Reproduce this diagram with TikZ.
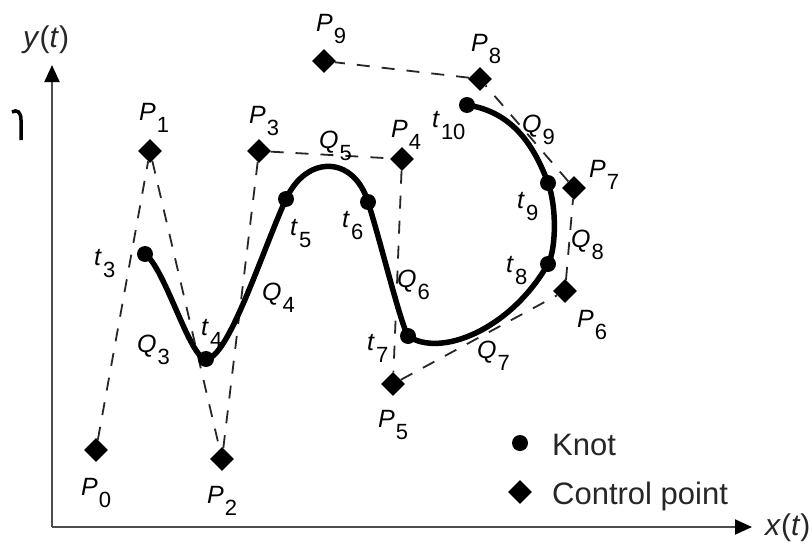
\documentclass[tikz,border=0pt]{standalone}
\usepackage{fontspec}
\setmainfont{Liberation Sans}
\usetikzlibrary{shapes.geometric,arrows.meta}
\newcommand{\lbl}[2]{\textit{#1}\kern1pt\raisebox{-12pt}{\fontsize{22}{22}\selectfont #2}}
\begin{document}
\begin{tikzpicture}[x=1pt,y=-1pt,
  ctrl/.style={diamond,fill=black,inner sep=0pt,minimum size=24pt},
  knot/.style={circle,fill=black,inner sep=0pt,minimum size=16pt},
  hull/.style={dash pattern=on 13pt off 12pt,line width=1.8pt,black!85},
  spline/.style={line width=5.5pt,black},
  axis/.style={line width=2pt,black!70,-{Triangle[length=17pt,width=15pt,fill=black,color=black]}},
  lab/.style={anchor=base west,inner sep=0pt,font=\fontsize{25}{25}\selectfont},
  leg/.style={anchor=base west,inner sep=0pt,font=\fontsize{31}{31}\selectfont,black!85},
  axlab/.style={anchor=base west,inner sep=0pt,font=\fontsize{30}{30}\selectfont,black!85}]
\fill[white] (0,0) rectangle (812,546);
\useasboundingbox (0,0) rectangle (812,546);
% stray fragment at left edge
\draw[line width=3.5pt,black,line cap=butt] (12,112) .. controls (17,109) and (21,112) .. (21,120) -- (21,140);
% axes
\coordinate (O) at (52,527);
\coordinate (Yend) at (52,65);
\coordinate (Xend) at (752,527);
\draw[axis] (O) -- (Yend);
\draw[axis] (O) -- (Xend);
\node[axlab] (ylab) at (23,47) {\textit{y}(\textit{t})};
\node[axlab] (xlab) at (765,535) {\textit{x}(\textit{t})};
% control points
\node[ctrl] (P0) at (96,450) {};
\node[ctrl] (P1) at (150,151) {};
\node[ctrl] (P2) at (222,459) {};
\node[ctrl] (P3) at (259,151) {};
\node[ctrl] (P4) at (402,159) {};
\node[ctrl] (P5) at (393,384) {};
\node[ctrl] (P6) at (565,291) {};
\node[ctrl] (P7) at (574,188) {};
\node[ctrl] (P8) at (480,79) {};
\node[ctrl] (P9) at (324,61) {};
\draw[hull] (P0) -- (P1) -- (P2) -- (P3) -- (P4) -- (P5) -- (P6) -- (P7) -- (P8) -- (P9);
% knots
\node[knot] (t3) at (145,254) {};
\node[knot] (t4) at (206,359) {};
\node[knot] (t5) at (286,199) {};
\node[knot] (t6) at (368,202) {};
\node[knot] (t7) at (408,336) {};
\node[knot] (t8) at (548,264) {};
\node[knot] (t9) at (548,183) {};
\node[knot] (t10) at (467,105) {};
% spline
\draw[spline] (t3.center) .. controls (165,268) and (190,359) .. (t4.center)
  .. controls (228,359) and (262,252) .. (t5.center)
  .. controls (307,154) and (354,156) .. (t6.center)
  .. controls (381,243) and (400,322) .. (t7.center)
  .. controls (440,358) and (510,330) .. (t8.center)
  .. controls (556,250) and (557,207) .. (t9.center)
  .. controls (535,148) and (514,112) .. (t10.center);
% control point labels
\node[lab] (lP0) at (81,495) {\lbl{P}{0}};
\node[lab] (lP1) at (139,120) {\lbl{P}{1}};
\node[lab] (lP2) at (207,503) {\lbl{P}{2}};
\node[lab] (lP3) at (249,123) {\lbl{P}{3}};
\node[lab] (lP4) at (391,137) {\lbl{P}{4}};
\node[lab] (lP5) at (378,427) {\lbl{P}{5}};
\node[lab] (lP6) at (577,327) {\lbl{P}{6}};
\node[lab] (lP7) at (589,177) {\lbl{P}{7}};
\node[lab] (lP8) at (471,51) {\lbl{P}{8}};
\node[lab] (lP9) at (316,31) {\lbl{P}{9}};
% knot labels
\node[lab] (lt3) at (94,265) {\lbl{t}{3}};
\node[lab] (lt4) at (201,335) {\lbl{t}{4}};
\node[lab] (lt5) at (290,235) {\lbl{t}{5}};
\node[lab] (lt6) at (342,227) {\lbl{t}{6}};
\node[lab] (lt7) at (367,350) {\lbl{t}{7}};
\node[lab] (lt8) at (506,272) {\lbl{t}{8}};
\node[lab] (lt9) at (517,208) {\lbl{t}{9}};
\node[lab] (lt10) at (432,127) {\lbl{t}{10}};
% segment labels
\node[lab] (lQ3) at (137,352) {\lbl{Q}{3}};
\node[lab] (lQ4) at (262,300) {\lbl{Q}{4}};
\node[lab] (lQ5) at (319,148) {\lbl{Q}{5}};
\node[lab] (lQ6) at (397,287) {\lbl{Q}{6}};
\node[lab] (lQ7) at (477,358) {\lbl{Q}{7}};
\node[lab] (lQ8) at (571,247) {\lbl{Q}{8}};
\node[lab] (lQ9) at (522,132) {\lbl{Q}{9}};
% legend
\node[knot] (legK) at (520,443) {};
\node[leg] (legKt) at (552,455) {Knot};
\node[ctrl] (legC) at (520,492) {};
\node[leg] (legCt) at (552,504) {Control point};
\end{tikzpicture}
\end{document}
